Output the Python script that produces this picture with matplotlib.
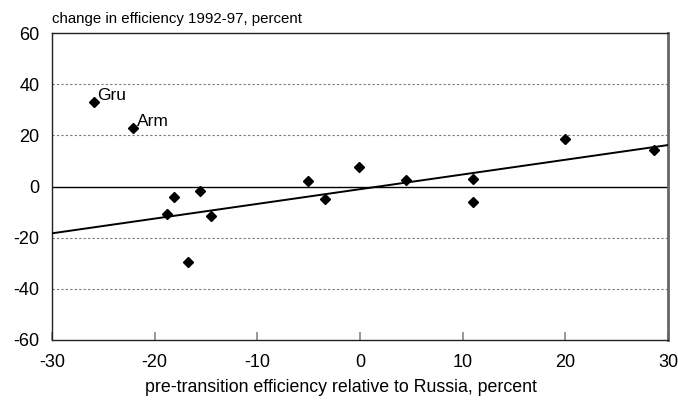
import matplotlib
matplotlib.use("Agg")
import matplotlib.pyplot as plt

plt.rcParams['font.family'] = ['Liberation Sans', 'DejaVu Sans']
plt.rcParams['axes.unicode_minus'] = False

# pre-transition efficiency relative to Russia (x) vs change 1992-97 (y)
eff_x = [-25.9, -22.1, -18.8, -18.1, -16.8, -15.6, -14.5, -5.1, -3.4, -0.1,
         4.5, 11.0, 11.0, 20.0, 28.6]
eff_y = [33.0, 22.9, -10.8, -4.1, -29.5, -1.8, -11.5, 2.2, -4.9, 7.6,
         2.5, 2.9, -6.1, 18.6, 14.3]
labels = {0: "Gru", 1: "Arm"}

trend_x = [-30, 30]
trend_y = [-18.3, 16.2]

x_ticks = [-30, -20, -10, 0, 10, 20, 30]
y_ticks = [-60, -40, -20, 0, 20, 40, 60]

fig = plt.figure(figsize=(6.78, 4.04), dpi=100)
ax = fig.add_axes([52/678, 1 - 340/404, 616/678, 307/404])

for g in [-40, -20, 20, 40]:
    ax.axhline(g, color='#777777', lw=0.8, ls=(0, (2, 2)), zorder=1)
ax.axhline(0, color='black', lw=1.0, zorder=2)

ax.plot(trend_x, trend_y, color='black', lw=1.4, zorder=3)
ax.plot(eff_x, eff_y, ls='none', marker='D', ms=5.2, color='black', zorder=4)

for i, name in labels.items():
    ax.annotate(name, (eff_x[i], eff_y[i]), xytext=(2.5, -1), textcoords='offset points',
                fontsize=12.5, ha='left', va='bottom')

ax.set_xlim(-30, 30)
ax.set_ylim(-60, 60)
ax.set_xticks(x_ticks)
ax.set_yticks(y_ticks)
ax.tick_params(axis='x', direction='in', length=6, color='#888888', width=1.2,
               labelsize=13, pad=10)
ax.tick_params(axis='y', length=0, labelsize=13, pad=9)
for s in ['left', 'bottom', 'top']:
    ax.spines[s].set_color('#222222')
    ax.spines[s].set_linewidth(1.0)
ax.spines['right'].set_color('#666666')
ax.spines['right'].set_linewidth(2.0)

fig.text(341/678, 1 - 392/404, "pre-transition efficiency relative to Russia, percent",
         fontsize=12.8, ha='center', va='baseline')
fig.text(52/678, 1 - 23/404, "change in efficiency 1992-97, percent", fontsize=10.8,
         ha='left', va='baseline')

fig.savefig("out.png", dpi=100)
